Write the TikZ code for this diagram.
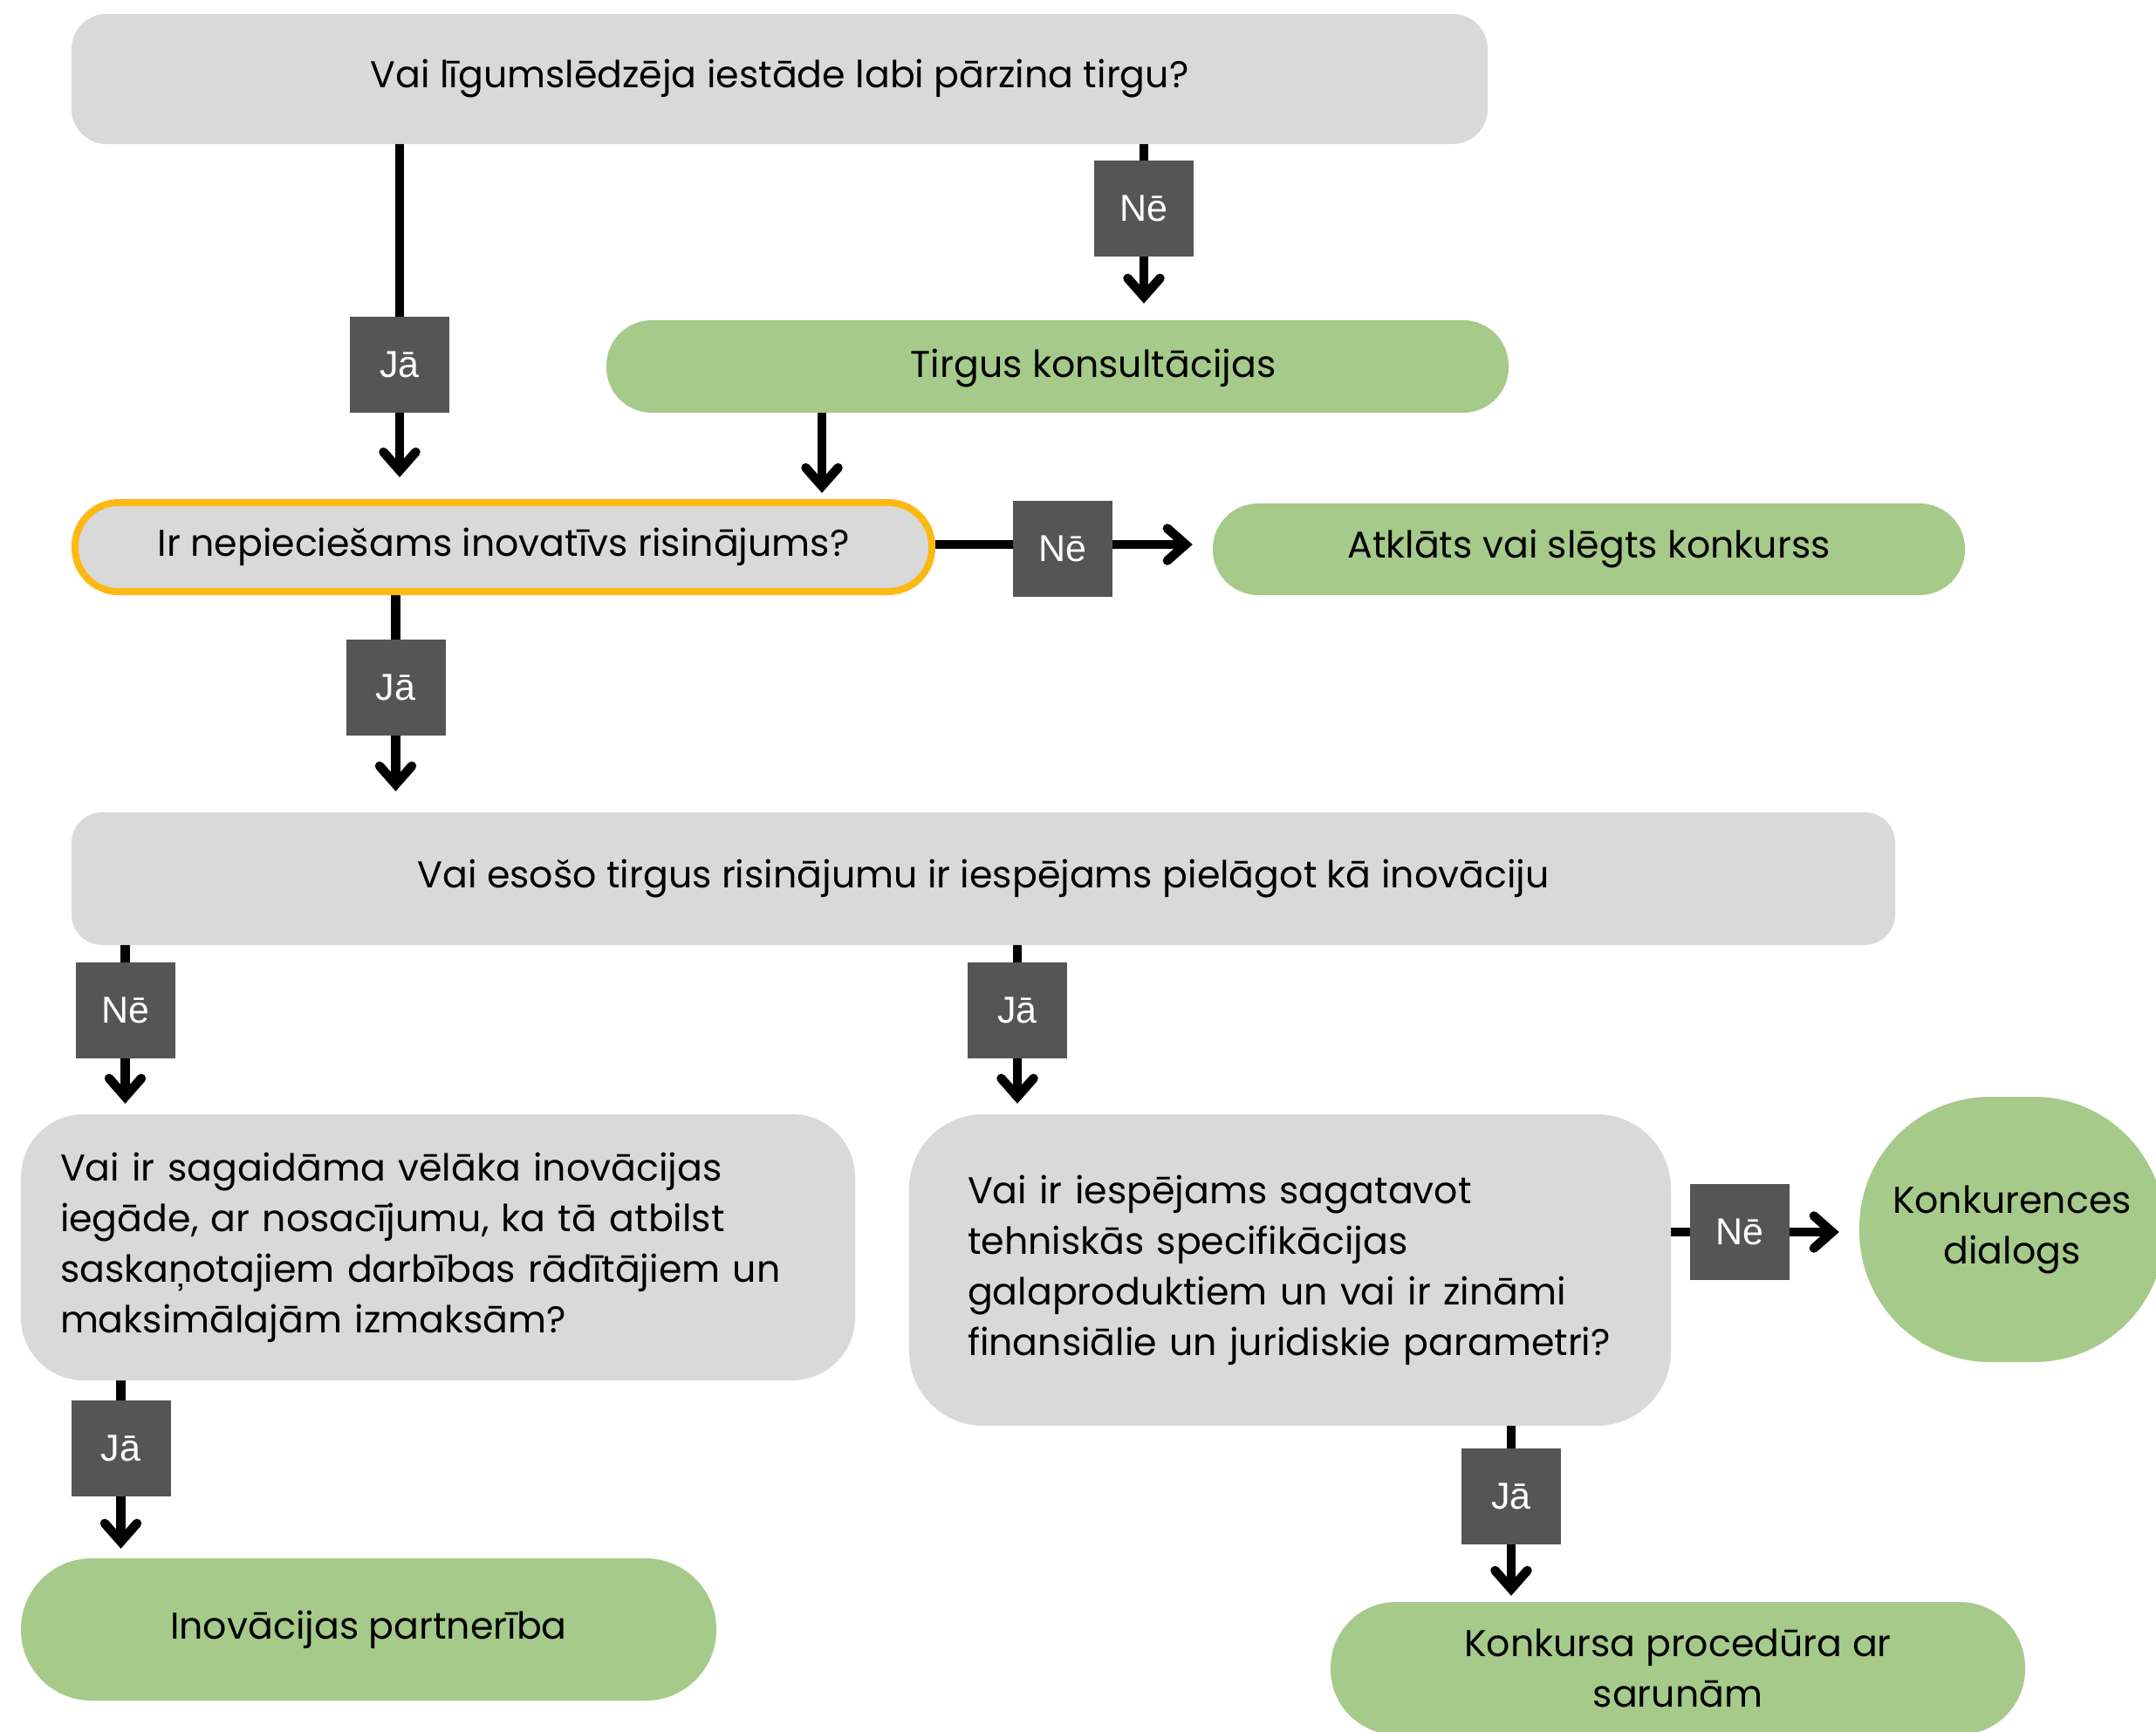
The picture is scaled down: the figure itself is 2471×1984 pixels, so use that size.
\documentclass[tikz,border=0pt]{standalone}
\usepackage{fontspec}
\setmainfont{Poppins}
\newfontfamily\lblfont{Liberation Sans}
\usetikzlibrary{arrows.meta}
\definecolor{boxgray}{HTML}{D9D9D9}
\definecolor{boxgreen}{HTML}{A6CA8A}
\definecolor{lblgray}{HTML}{555555}
\definecolor{hlorange}{HTML}{FDB913}
\pgfdeclarelayer{back}
\pgfdeclarelayer{bg}
\pgfsetlayers{back,bg,main}
\begin{document}
\begin{tikzpicture}[x=1pt,y=-1pt,
  txt/.style={font=\fontsize{42.7}{58}\selectfont},
  qbox/.style={fill=boxgray, inner sep=0pt, txt},
  gbox/.style={fill=boxgreen, inner sep=0pt, txt},
  lbl/.style={fill=lblgray, text=white, minimum width=114pt, minimum height=110pt, inner sep=0pt, font=\lblfont\fontsize{43}{48}\selectfont},
  conn/.style={line width=10.5pt, -{Straight Barb[length=21pt,width=37pt,line cap=round,line join=miter]}}
]
\useasboundingbox (0,0) rectangle (2471,1984);
\begin{pgfonlayer}{back}
\fill[white] (0,0) rectangle (2471,1984);
\end{pgfonlayer}

% question boxes
\node[qbox, minimum width=1623pt, minimum height=149pt, rounded corners=40pt] (q1) at (893.5,90.5) {Vai līgumslēdzēja iestāde labi pārzina tirgu?};
\node[qbox, draw=hlorange, line width=8pt, minimum width=982pt, minimum height=102pt, rounded corners=50pt] (q2) at (577,627) {Ir nepieciešams inovatīvs risinājums?};
\node[qbox, minimum width=2090pt, minimum height=152pt, rounded corners=35pt] (q3) at (1127,1007) {Vai esošo tirgus risinājumu ir iespējams pielāgot kā inovāciju};
\node[qbox, minimum width=956pt, minimum height=305pt, rounded corners=72pt, text width=866pt, align=left] (q4) at (502,1429.5) {Vai ir sagaidāma vēlāka inovācijas\\iegāde, ar nosacījumu, ka tā atbilst\\saskaņotajiem darbības rādītājiem un\\maksimālajām izmaksām?};
\node[qbox, minimum width=873pt, minimum height=357pt, rounded corners=85pt, text width=739pt, align=left] (q5) at (1478.5,1455.5) {Vai ir iespējams sagatavot\\tehniskās specifikācijas\\galaproduktiem un vai ir zināmi\\finansiālie un juridiskie parametri?};

% result boxes
\node[gbox, minimum width=1034pt, minimum height=106pt, rounded corners=52pt] (t1) at (1212,420) {};
\node[txt] (t1txt) at (1253,422) {Tirgus konsultācijas};
\node[gbox, minimum width=862pt, minimum height=105pt, rounded corners=52pt] (a1) at (1821,629.5) {Atklāts vai slēgts konkurss};
\node[gbox, minimum width=797pt, minimum height=163pt, rounded corners=81pt] (g3) at (422.5,1867.5) {Inovācijas partnerība};
\node[gbox, minimum width=796pt, minimum height=152pt, rounded corners=75pt, align=center] (g4) at (1923,1912) {Konkursa procedūra ar\\sarunām};
\node[gbox, minimum width=350pt, minimum height=304pt, rounded corners=150pt, align=center] (k) at (2306,1409) {Konkurences\\dialogs};

% labels
\node[lbl] (l1) at (458,417.5) {Jā};
\node[lbl] (l2) at (1311,238.5) {Nē};
\node[lbl] (l3) at (1218,629) {Nē};
\node[lbl] (l4) at (453.5,788) {Jā};
\node[lbl] (l5) at (143.5,1158) {Nē};
\node[lbl] (l6) at (1166,1158) {Jā};
\node[lbl] (l7) at (138.5,1659.5) {Jā};
\node[lbl] (l8) at (1993.5,1412) {Nē};
\node[lbl] (l9) at (1732,1714.5) {Jā};

\begin{pgfonlayer}{bg}
\draw[conn, shorten >=25pt] (q1.south -| l1) -- (q2.north -| l1);
\draw[conn, shorten >=19pt] (q1.south -| l2) -- (t1.north -| l2);
\draw[conn, shorten >=7pt] ([xshift=-270pt]t1.south) -- ([xshift=-270pt]t1.south |- q2.north);
\draw[conn, shorten >=23pt] (q2.east |- 0,624) -- (a1.west |- 0,624);
\draw[conn, shorten >=24pt] (q2.south -| l4) -- (q3.north -| l4);
\draw[conn, shorten >=12pt] (q3.south -| l5) -- (q4.north -| l5);
\draw[conn, shorten >=12pt] (q3.south -| l6) -- (q5.north -| l6);
\draw[conn, shorten >=11pt] (q4.south -| l7) -- (g3.north -| l7);
\draw[conn, shorten >=23pt] (q5.east |- l8) -- (k.west |- l8);
\draw[conn, shorten >=7pt] (q5.south -| l9) -- (g4.north -| l9);
\end{pgfonlayer}
\end{tikzpicture}
\end{document}
